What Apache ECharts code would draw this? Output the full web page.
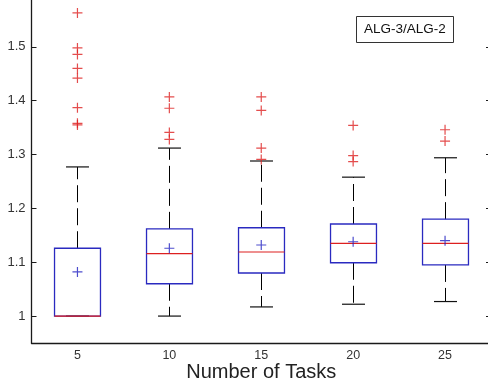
<!DOCTYPE html>
<html>
<head>
<meta charset="utf-8">
<script src="https://cdn.jsdelivr.net/npm/echarts@6/dist/echarts.min.js"></script>
<style>
html,body{margin:0;padding:0;background:#fff;}
#chart{width:488px;height:389px;}
</style>
</head>
<body>
<div id="chart"></div>
<script>
// ---- data ----
const categories   = ['5', '10', '15', '20', '25'];
const whiskerLow   = [1.000, 1.000, 1.017, 1.022, 1.027];
const quartile1    = [1.000, 1.060, 1.080, 1.099, 1.095];
const medians      = [1.000, 1.116, 1.119, 1.135, 1.135];
const quartile3    = [1.126, 1.162, 1.164, 1.171, 1.180];
const whiskerHigh  = [1.277, 1.312, 1.288, 1.258, 1.294];
const means        = [1.082, 1.126, 1.132, 1.138, 1.140];
const outliers5    = [1.563, 1.498, 1.486, 1.460, 1.442, 1.387, 1.358, 1.355];
const outliers10   = [1.407, 1.386, 1.341, 1.328];
const outliers15   = [1.407, 1.382, 1.312, 1.291];
const outliers20   = [1.354, 1.298, 1.287];
const outliers25   = [1.346, 1.325];
const legendLabel  = 'ALG-3/ALG-2';
const xAxisTitle   = 'Number of Tasks';

const outlierGroups = [outliers5, outliers10, outliers15, outliers20, outliers25];

const boxData = categories.map((c, i) =>
  [i, whiskerLow[i], quartile1[i], medians[i], quartile3[i], whiskerHigh[i]]);
const meanData = categories.map((c, i) => [i, means[i]]);
const outlierData = [];
outlierGroups.forEach((g, i) => g.forEach(v => outlierData.push([i, v])));

const plusPath = 'path://M0,5L10,5M5,0L5,10';
const FONT = 'Liberation Sans, Arial, sans-serif';

const chart = echarts.init(document.getElementById('chart'), null, {renderer: 'canvas'});

function renderBox(params, api) {
  const i = api.value(0);
  const band = api.size([1, 0])[0];
  const pLow = api.coord([i, api.value(1)]);
  const pQ1 = api.coord([i, api.value(2)]);
  const pMed = api.coord([i, api.value(3)]);
  const pQ3 = api.coord([i, api.value(4)]);
  const pHigh = api.coord([i, api.value(5)]);
  const x = Math.round(pMed[0]) + 0.5;
  const bh = band * 0.25;   // half box width
  const ch = band * 0.125;  // half cap width
  const whiskerStyle = {stroke: '#000', lineWidth: 1, lineDash: [17, 6]};
  const capStyle = {stroke: '#111', lineWidth: 1.2};
  return {
    type: 'group',
    children: [
      {type: 'line', shape: {x1: x, y1: pQ3[1], x2: x, y2: pHigh[1]}, style: whiskerStyle},
      {type: 'line', shape: {x1: x, y1: pQ1[1], x2: x, y2: pLow[1]}, style: whiskerStyle},
      {type: 'line', shape: {x1: x - ch, y1: pHigh[1], x2: x + ch, y2: pHigh[1]}, style: capStyle},
      {type: 'line', shape: {x1: x - ch, y1: pLow[1], x2: x + ch, y2: pLow[1]}, style: capStyle},
      {type: 'rect', shape: {x: x - bh, y: pQ3[1], width: 2 * bh, height: pQ1[1] - pQ3[1]},
        style: {fill: 'none', stroke: '#2a2ac0', lineWidth: 1.3}},
      {type: 'line', shape: {x1: x - bh, y1: pMed[1], x2: x + bh, y2: pMed[1]},
        style: {stroke: '#dd2020', lineWidth: 1.2}}
    ]
  };
}

const axisLineStyle = {color: '#1a1a1a', width: 1.3};

chart.setOption({
  animation: false,
  backgroundColor: '#fff',
  title: {
    text: legendLabel,
    left: 356, top: 16,
    padding: [6, 8, 6, 8],
    borderColor: '#333', borderWidth: 1,
    textStyle: {fontFamily: FONT, fontSize: 13.5, fontWeight: 'normal', color: '#111', lineHeight: 15}
  },
  grid: {left: 31.5, right: -3, top: -7, bottom: 46, containLabel: false, outerBoundsMode: 'none'},
  xAxis: [{
    type: 'category',
    data: categories,
    position: 'bottom',
    boundaryGap: true,
    axisLine: {lineStyle: axisLineStyle},
    axisTick: {inside: true, alignWithLabel: true, length: 6, lineStyle: {color: '#1a1a1a'}},
    axisLabel: {fontFamily: FONT, fontSize: 12.5, color: '#333', margin: 6},
    name: xAxisTitle,
    nameLocation: 'middle',
    nameGap: 19,
    nameMoveOverlap: false,
    nameTextStyle: {fontFamily: FONT, fontSize: 20, color: '#222'},
    splitLine: {show: false}
  }, {
    type: 'category',
    data: categories,
    position: 'top',
    boundaryGap: true,
    axisLine: {lineStyle: axisLineStyle},
    axisTick: {inside: true, alignWithLabel: true, length: 11, lineStyle: {color: '#1a1a1a'}},
    axisLabel: {show: false},
    splitLine: {show: false}
  }],
  yAxis: [{
    type: 'value',
    min: 0.95, max: 1.6,
    position: 'left',
    axisLine: {show: true, lineStyle: axisLineStyle},
    axisTick: {show: true, inside: true, length: 5, lineStyle: {color: '#1a1a1a'}},
    axisLabel: {fontFamily: FONT, fontSize: 13, color: '#333', margin: 6,
      showMinLabel: false, showMaxLabel: false,
      formatter: v => String(Math.round(v * 10) / 10)},
    splitLine: {show: false}
  }, {
    type: 'value',
    min: 0.95, max: 1.6,
    position: 'right',
    axisLine: {show: true, lineStyle: axisLineStyle},
    axisTick: {show: true, inside: true, length: 5, lineStyle: {color: '#1a1a1a'}},
    axisLabel: {show: false},
    splitLine: {show: false}
  }],
  series: [{
    type: 'custom',
    name: 'box',
    xAxisIndex: 0, yAxisIndex: 0,
    renderItem: renderBox,
    encode: {x: 0, y: [1, 2, 3, 4, 5]},
    data: boxData,
    z: 2
  }, {
    type: 'scatter',
    name: 'mean',
    xAxisIndex: 0, yAxisIndex: 0,
    symbol: plusPath,
    symbolSize: 10,
    itemStyle: {color: 'none', borderColor: '#2020c0', borderWidth: 1.2},
    data: meanData,
    z: 3
  }, {
    type: 'scatter',
    name: 'outliers',
    xAxisIndex: 0, yAxisIndex: 0,
    symbol: plusPath,
    symbolSize: 10,
    itemStyle: {color: 'none', borderColor: '#dd2020', borderWidth: 1.2},
    data: outlierData,
    z: 3
  }]
});
</script>
</body>
</html>
